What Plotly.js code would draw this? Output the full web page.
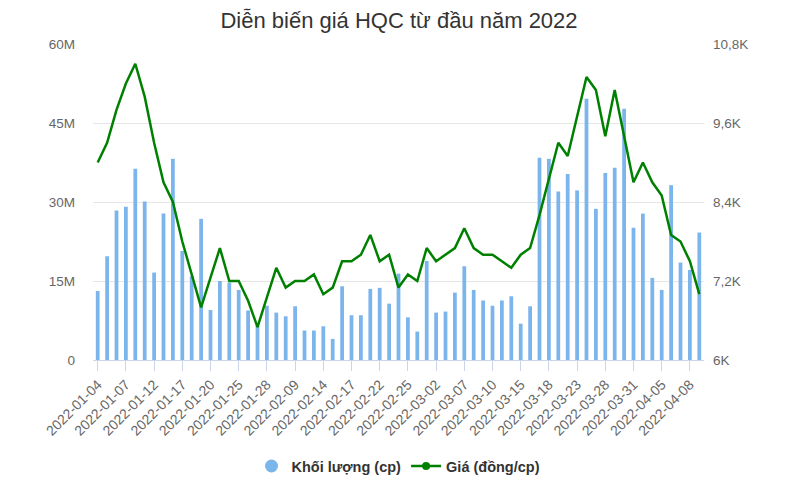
<!DOCTYPE html>
<html>
<head>
<meta charset="utf-8">
<script src="https://cdn.plot.ly/plotly-3.0.1.min.js"></script>
<style>
  html, body { margin: 0; padding: 0; background: #fff; }
  #chart { width: 798px; height: 480px; }
</style>
</head>
<body>
<div id="chart"></div>
<script>
const dates = [
  "2022-01-04","2022-01-05","2022-01-06","2022-01-07","2022-01-10","2022-01-11","2022-01-12","2022-01-13","2022-01-14",
  "2022-01-17","2022-01-18","2022-01-19","2022-01-20","2022-01-21","2022-01-24","2022-01-25","2022-01-26","2022-01-27","2022-01-28",
  "2022-02-07","2022-02-08","2022-02-09","2022-02-10","2022-02-11","2022-02-14","2022-02-15","2022-02-16","2022-02-17","2022-02-18",
  "2022-02-21","2022-02-22","2022-02-23","2022-02-24","2022-02-25","2022-02-28","2022-03-01","2022-03-02","2022-03-03","2022-03-04",
  "2022-03-07","2022-03-08","2022-03-09","2022-03-10","2022-03-11","2022-03-14","2022-03-15","2022-03-16","2022-03-17","2022-03-18",
  "2022-03-21","2022-03-22","2022-03-23","2022-03-24","2022-03-25","2022-03-28","2022-03-29","2022-03-30","2022-03-31","2022-04-01",
  "2022-04-04","2022-04-05","2022-04-06","2022-04-07","2022-04-08","2022-04-12"
];
// Khối lượng (cp), millions
const volumeM = [
  13.1, 19.7, 28.4, 29.1, 36.3, 30.1, 16.6, 27.8, 38.2,
  20.7, 15.9, 26.8, 9.5, 15.0, 14.7, 13.3, 9.4, 6.5, 10.3,
  9.0, 8.3, 10.2, 5.6, 5.6, 6.4, 4.0, 14.0, 8.5, 8.5,
  13.5, 13.7, 10.7, 16.4, 8.1, 5.4, 18.8, 9.0, 9.2, 12.8,
  17.8, 13.3, 11.3, 10.3, 11.3, 12.1, 6.9, 10.2, 38.4, 38.2,
  32.0, 35.3, 32.2, 49.6, 28.7, 35.5, 36.5, 47.7, 25.1, 27.8,
  15.6, 13.3, 33.2, 18.5, 17.1, 24.2
];
// Giá (đồng/cp), thousands
const priceK = [
  9.0, 9.3, 9.8, 10.2, 10.5, 10.0, 9.3, 8.7, 8.4,
  7.8, 7.3, 6.8, 7.25, 7.7, 7.2, 7.2, 6.9, 6.5, 6.95,
  7.4, 7.1, 7.2, 7.2, 7.3, 7.0, 7.1, 7.5, 7.5, 7.6,
  7.9, 7.5, 7.6, 7.1, 7.3, 7.2, 7.7, 7.5, 7.6, 7.7,
  8.0, 7.7, 7.6, 7.6, 7.5, 7.4, 7.6, 7.7, 8.2, 8.75,
  9.3, 9.1, 9.7, 10.3, 10.1, 9.4, 10.1, 9.4, 8.7, 9.0,
  8.7, 8.5, 7.9, 7.8, 7.5, 7.0
];
const leftTickVals = [0, 15e6, 30e6, 45e6, 60e6];
const leftTickText = ["0", "15M", "30M", "45M", "60M"];
const rightTickVals = [6000, 7200, 8400, 9600, 10800];
const rightTickText = ["6K", "7,2K", "8,4K", "9,6K", "10,8K"];

const volume = volumeM.map(v => v * 1e6);
const price = priceK.map(v => v * 1000);
const xTicks = dates.filter((d, i) => i % 3 === 0);

const blue = "#7cb5ec";
const green = "#008000";
const font = "Liberation Sans, Arial, sans-serif";

const traces = [
  {
    type: "bar", x: dates, y: volume, name: "Khối lượng (cp)",
    marker: { color: blue }, yaxis: "y", showlegend: false
  },
  {
    type: "scatter", mode: "lines", x: dates, y: price, name: "Giá (đồng/cp)",
    line: { color: green, width: 2.5 }, yaxis: "y2", showlegend: false
  },
  {
    type: "scatter", mode: "markers", x: [null], y: [null], name: "Khối lượng (cp)",
    marker: { color: blue, size: 13, symbol: "circle" }, showlegend: true
  },
  {
    type: "scatter", mode: "lines+markers", x: [null], y: [null], name: "Giá (đồng/cp)",
    line: { color: green, width: 2.5 }, marker: { color: green, size: 8, symbol: "circle" },
    yaxis: "y2", showlegend: true
  }
];

const layout = {
  width: 798, height: 480,
  margin: { l: 93, r: 94, t: 44, b: 120, pad: 0 },
  paper_bgcolor: "#fff", plot_bgcolor: "#fff",
  font: { family: font, color: "#666", size: 13 },
  title: {
    text: "Diễn biến giá HQC từ đầu năm 2022",
    font: { family: font, size: 22, color: "#333" },
    x: 0.5, xanchor: "center", y: 0.957, yanchor: "middle"
  },
  bargap: 0.6,
  showlegend: true,
  legend: {
    orientation: "h", x: 0.5, xanchor: "center",
    yref: "container", y: 0.029, yanchor: "middle",
    font: { family: font, size: 14.5, color: "#333", weight: "bold" },
    itemwidth: 30, tracegroupgap: 0
  },
  xaxis: {
    type: "category",
    range: [-0.5, dates.length - 0.5],
    tickmode: "array", tickvals: xTicks, ticktext: xTicks,
    tickangle: -45,
    ticks: "outside", ticklen: 10, tickcolor: "#ccd6eb", tickwidth: 1,
    showline: true, linecolor: "#ccd6eb", linewidth: 1,
    showgrid: false, zeroline: false, automargin: false,
    tickfont: { family: font, size: 14, color: "#666" }
  },
  yaxis: {
    range: [0, 60e6], automargin: false,
    tickmode: "array", tickvals: leftTickVals, ticktext: leftTickText,
    showgrid: true, gridcolor: "#e6e6e6", gridwidth: 1,
    zeroline: false, showline: false, ticks: "",
    ticklabelstandoff: 17,
    tickfont: { family: font, size: 13.5, color: "#666" }
  },
  yaxis2: {
    range: [6000, 10800], overlaying: "y", side: "right", automargin: false,
    tickmode: "array", tickvals: rightTickVals, ticktext: rightTickText,
    showgrid: false, zeroline: false, showline: false, ticks: "",
    ticklabelstandoff: 8,
    tickfont: { family: font, size: 13.5, color: "#666" }
  }
};

Plotly.newPlot("chart", traces, layout, { displayModeBar: false, staticPlot: true });
</script>
</body>
</html>
